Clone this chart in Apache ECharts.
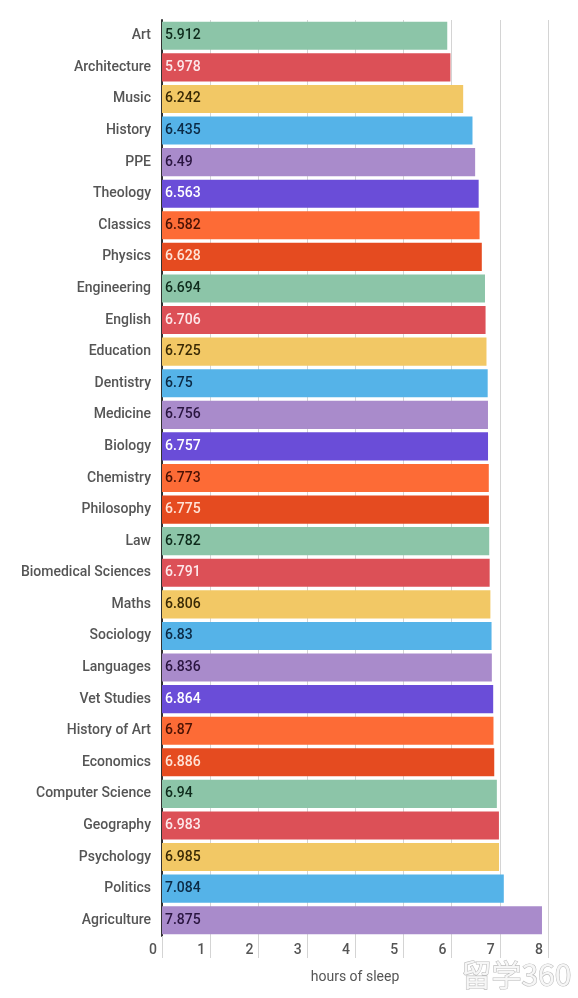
<!DOCTYPE html>
<html>
<head>
<meta charset="utf-8">
<script src="https://cdn.jsdelivr.net/npm/echarts@6/dist/echarts.min.js"></script>
<style>html,body{margin:0;padding:0;background:#fff}#c{width:578px;height:998px}</style>
</head>
<body>
<div id="c"></div>
<script>
const categories = ["Art","Architecture","Music","History","PPE","Theology","Classics","Physics","Engineering","English","Education","Dentistry","Medicine","Biology","Chemistry","Philosophy","Law","Biomedical Sciences","Maths","Sociology","Languages","Vet Studies","History of Art","Economics","Computer Science","Geography","Psychology","Politics","Agriculture"];
const hours = [5.912,5.978,6.242,6.435,6.49,6.563,6.582,6.628,6.694,6.706,6.725,6.75,6.756,6.757,6.773,6.775,6.782,6.791,6.806,6.83,6.836,6.864,6.87,6.886,6.94,6.983,6.985,7.084,7.875];
const xTicks = [0,1,2,3,4,5,6,7,8];
const palette = ["#8cc5a8","#dc5057","#f2c865","#55b3e8","#a98bcb","#6a4dd8","#fd6b36","#e54b20"];
const labelColors = ["#0e2b1c","#fde8ea","#3a2a05","#0b2a45","#2a1540","#ffffff","#4a1204","#ffe3d6"];

const chart = echarts.init(document.getElementById('c'));
chart.setOption({
  animation: false,
  textStyle: { fontFamily: 'Roboto' },
  grid: { left: 162, right: 30, top: 20, bottom: 62 },
  xAxis: {
    type: 'value', min: 0, max: 8, interval: 1,
    name: 'hours of sleep', nameLocation: 'middle', nameGap: 34,
    nameTextStyle: { fontSize: 14, color: '#555', fontFamily: 'Roboto' },
    axisLine: { show: false },
    axisTick: { show: true, length: 22, lineStyle: { color: '#d4d4d4' } },
    axisLabel: {
      fontSize: 14, color: '#555', fontWeight: 500, align: 'right', margin: 7, padding: [0, 5, 0, 0],
      formatter: v => xTicks.includes(v) ? String(v) : ''
    },
    splitLine: { show: true, lineStyle: { color: '#d4d4d4' } }
  },
  yAxis: {
    type: 'category', data: categories, inverse: true,
    axisLine: { show: true, lineStyle: { color: '#333', width: 2 } },
    axisTick: { show: false },
    axisLabel: { fontSize: 14, color: '#555', fontWeight: 500, margin: 11 }
  },
  series: [{
    type: 'bar',
    barCategoryGap: '11%',
    data: hours.map((v, i) => ({
      value: v,
      itemStyle: { color: palette[i % 8] },
      label: { color: labelColors[i % 8] }
    })),
    label: {
      show: true, position: 'insideLeft', offset: [-2, 0],
      fontSize: 14, fontWeight: 500, fontFamily: 'Roboto'
    }
  }],
  graphic: [{
    type: 'text', right: 6, bottom: 8,
    style: { text: '留学360', fontSize: 30, fontFamily: 'Noto Sans CJK SC', fill: '#f6f6f6', stroke: '#bdbdbd', lineWidth: 1.2 }
  }]
});
</script>
</body>
</html>
